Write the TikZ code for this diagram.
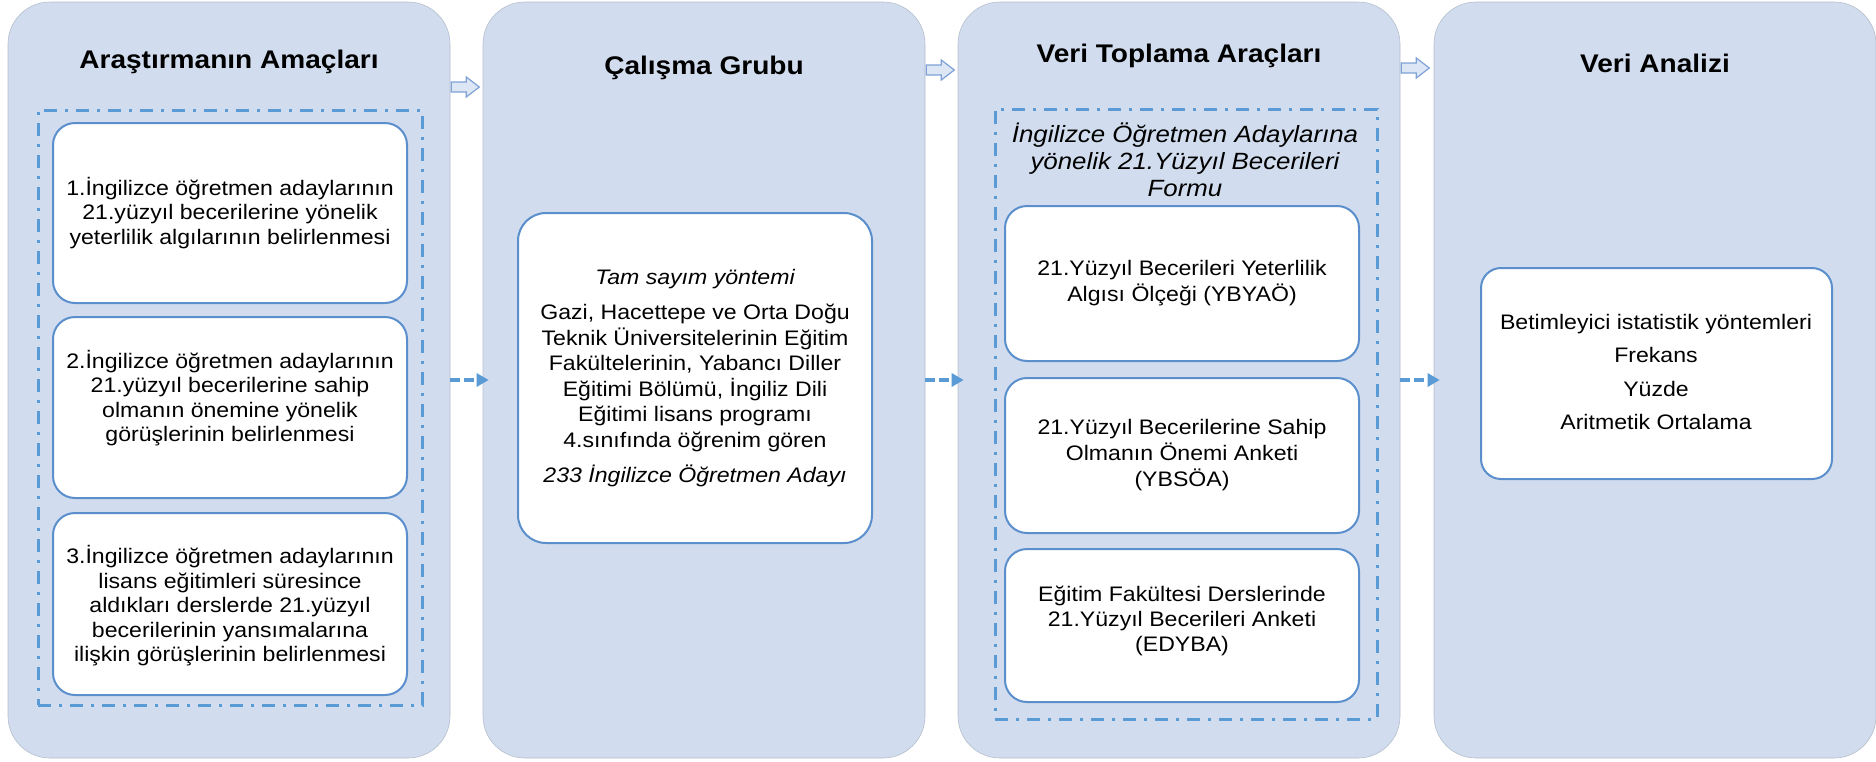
\documentclass[tikz,border=0pt]{standalone}
\usepackage{fontspec}
\setmainfont{Liberation Sans}[FakeStretch=1.1]
\usetikzlibrary{arrows.meta}
\definecolor{colfill}{HTML}{D1DDEE}
\definecolor{coledge}{HTML}{B4BECC}
\definecolor{boxedge}{HTML}{5A8FCC}
\definecolor{dashblue}{HTML}{5B9BD5}
\definecolor{barrowfill}{HTML}{DCE6F4}
\definecolor{barrowedge}{HTML}{7EA1D6}
\begin{document}
\begin{tikzpicture}[x=1pt,y=-1pt,
  column/.style={fill=colfill, draw=coledge, line width=0.6pt, rounded corners=42pt, minimum width=442pt, minimum height=756pt, inner sep=0pt},
  title/.style={font=\fontsize{25.5}{30}\selectfont\bfseries, inner sep=0pt},
  group/.style={draw=dashblue, line width=3pt, dash pattern=on 13pt off 8pt on 3pt off 8pt, inner sep=0pt},
  wbox/.style={fill=white, draw=boxedge, line width=2pt, inner sep=0pt, minimum width=354pt, rounded corners=22pt},
  txt/.style={font=\fontsize{21}{24.5}\selectfont, align=center, inner sep=0pt},
  flow/.style={draw=dashblue, line width=3.5pt, dash pattern=on 10pt off 4pt, -{Triangle[length=12pt,width=13pt]}},
  blockarrow/.style={fill=barrowfill, draw=barrowedge, line width=1.2pt, line join=miter}
]
\useasboundingbox (0,0) rectangle (1876,761);

% columns
\node[column] (c1) at (229,380) {};
\node[column] (c2) at (704,380) {};
\node[column] (c3) at (1179,380) {};
\node[column] (c4) at (1655,380) {};

% titles
\node[title] (t1) at (229,62) {Araştırmanın Amaçları};
\node[title] (t2) at (704,68) {Çalışma Grubu};
\node[title] (t3) at (1179,56) {Veri Toplama Araçları};
\node[title] (t4) at (1655,63) {Veri Analizi};

% block arrows between columns
\draw[blockarrow] ([xshift=1pt]c1.east |- 0,87) ++(0,-5) -- ++(15,0) -- ++(0,-5) -- ++(13,10) -- ++(-13,10) -- ++(0,-5) -- ++(-15,0) -- cycle;
\draw[blockarrow] ([xshift=1pt]c2.east |- 0,70) ++(0,-5) -- ++(15,0) -- ++(0,-5) -- ++(13,10) -- ++(-13,10) -- ++(0,-5) -- ++(-15,0) -- cycle;
\draw[blockarrow] ([xshift=1pt]c3.east |- 0,68) ++(0,-5) -- ++(15,0) -- ++(0,-5) -- ++(13,10) -- ++(-13,10) -- ++(0,-5) -- ++(-15,0) -- cycle;

% dashed flow arrows
\draw[flow] (c1.east) -- ([xshift=6pt]c2.west);
\draw[flow] (c2.east) -- ([xshift=6pt]c3.west);
\draw[flow] (c3.east) -- ([xshift=6pt]c4.west);

% column 1
\node[group, minimum width=384pt, minimum height=595pt] (g1) at (230,407.5) {};
\node[wbox, minimum height=180pt] (b11) at (230,213) {};
\node[wbox, minimum height=181pt] (b12) at (230,407.5) {};
\node[wbox, minimum height=182pt] (b13) at (230,604) {};
\node[txt] (x11) at (230,213) {1.İngilizce öğretmen adaylarının\\21.yüzyıl becerilerine yönelik\\yeterlilik algılarının belirlenmesi};
\node[txt] (x12) at (230,398) {2.İngilizce öğretmen adaylarının\\21.yüzyıl becerilerine sahip\\olmanın önemine yönelik\\görüşlerinin belirlenmesi};
\node[txt] (x13) at (230,606) {3.İngilizce öğretmen adaylarının\\lisans eğitimleri süresince\\aldıkları derslerde 21.yüzyıl\\becerilerinin yansımalarına\\ilişkin görüşlerinin belirlenmesi};

% column 2
\node[wbox, minimum height=330pt, rounded corners=28pt] (b2) at (695,378) {};
\node[txt, font=\fontsize{21}{25.5}\selectfont] (x2) at (695,378) {{\itshape Tam sayım yöntemi}\\[9.5pt]Gazi, Hacettepe ve Orta Doğu\\Teknik Üniversitelerinin Eğitim\\Fakültelerinin, Yabancı Diller\\Eğitimi Bölümü, İngiliz Dili\\Eğitimi lisans programı\\4.sınıfında öğrenim gören\\[9.5pt]{\itshape 233 İngilizce Öğretmen Adayı}};

% column 3
\node[group, minimum width=382pt, minimum height=610pt] (g3) at (1186,414) {};
\node[txt, font=\fontsize{23.5}{27}\selectfont\itshape] (h3) at (1185,160) {İngilizce Öğretmen Adaylarına\\yönelik 21.Yüzyıl Becerileri\\Formu};
\node[wbox, minimum height=155pt] (b31) at (1182,283.5) {};
\node[wbox, minimum height=155pt] (b32) at (1182,455.5) {};
\node[wbox, minimum height=153pt] (b33) at (1182,625.5) {};
\node[txt, font=\fontsize{21}{26}\selectfont] (x31) at (1182,283) {21.Yüzyıl Becerileri Yeterlilik\\Algısı Ölçeği (YBYAÖ)};
\node[txt, font=\fontsize{21}{26}\selectfont] (x32) at (1182,455) {21.Yüzyıl Becerilerine Sahip\\Olmanın Önemi Anketi\\(YBSÖA)};
\node[txt, font=\fontsize{21}{25}\selectfont] (x33) at (1182,621) {Eğitim Fakültesi Derslerinde\\21.Yüzyıl Becerileri Anketi\\(EDYBA)};

% column 4
\node[wbox, minimum width=351pt, minimum height=211pt, rounded corners=20pt] (b4) at (1656.5,373.5) {};
\node[txt, font=\fontsize{21}{33.5}\selectfont] (x4) at (1656,372) {Betimleyici istatistik yöntemleri\\Frekans\\Yüzde\\Aritmetik Ortalama};
\end{tikzpicture}
\end{document}
